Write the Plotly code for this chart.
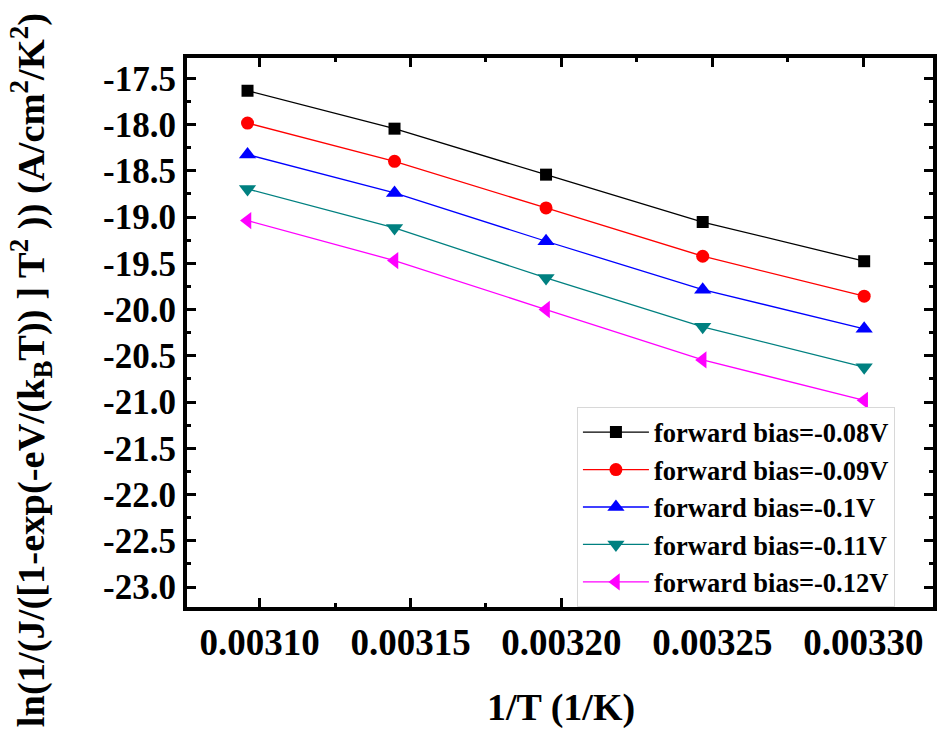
import plotly.graph_objects as go

# 1/T (1/K) for T = 323, 318, 313, 308, 303 K
inv_T = [0.0030960, 0.0031447, 0.0031949, 0.0032468, 0.0033003]

# ln(1/(J/([1-exp(-eV/(kB T))] T^2))) per forward bias
bias_labels = [
    "forward bias=-0.08V",
    "forward bias=-0.09V",
    "forward bias=-0.1V",
    "forward bias=-0.11V",
    "forward bias=-0.12V",
]
v_008 = [-17.635, -18.045, -18.542, -19.054, -19.478]
v_009 = [-17.984, -18.398, -18.902, -19.424, -19.856]
v_010 = [-18.325, -18.740, -19.262, -19.785, -20.209]
v_011 = [-18.697, -19.118, -19.658, -20.187, -20.623]
v_012 = [-19.039, -19.471, -20.000, -20.545, -20.982]

series = [v_008, v_009, v_010, v_011, v_012]
colors = ["#000000", "#FF0000", "#0000FF", "#008080", "#FF00FF"]
symbols = ["square", "circle", "triangle-up", "triangle-down", "triangle-left"]
sizes = [12, 13, 15, 15, 15]

FONT = "Liberation Serif"

fig = go.Figure()
for name, ys, c, s, sz in zip(bias_labels, series, colors, symbols, sizes):
    fig.add_trace(go.Scatter(
        x=inv_T, y=ys, name=name, mode="lines+markers",
        line=dict(color=c, width=1.3),
        marker=dict(symbol=s, size=sz, color=c, line=dict(width=0)),
    ))

axis_common = dict(
    showline=True, linecolor="black", linewidth=4,
    ticks="inside", ticklen=9, tickwidth=3, tickcolor="black",
    mirror="ticks", showgrid=False, zeroline=False,
)

fig.update_xaxes(
    range=[0.00307595, 0.0033231],
    tickvals=[0.00310, 0.00315, 0.00320, 0.00325, 0.00330],
    ticktext=["0.00310", "0.00315", "0.00320", "0.00325", "0.00330"],
    tickfont=dict(family=FONT, size=37, color="black", weight="bold"),
    minor=dict(ticks="inside", ticklen=4, tickwidth=3, tickcolor="black",
               dtick=0.000025, tick0=0.003075),
    **axis_common,
)

y_ticks = [-17.5, -18.0, -18.5, -19.0, -19.5, -20.0, -20.5,
           -21.0, -21.5, -22.0, -22.5, -23.0]
fig.update_yaxes(
    range=[-23.216, -17.281],
    tickvals=y_ticks,
    ticktext=[f"{v:.1f}" for v in y_ticks],
    tickfont=dict(family=FONT, size=35, color="black", weight="bold"),
    minor=dict(ticks="inside", ticklen=4, tickwidth=3, tickcolor="black",
               dtick=0.25, tick0=-17.25),
    **axis_common,
)

fig.add_annotation(
    text="<b>1/T (1/K)</b>", xref="paper", yref="paper",
    x=0.5013, y=-0.1826, xanchor="center", yanchor="middle",
    showarrow=False, font=dict(family=FONT, size=38, color="black"),
)
fig.add_annotation(
    text="<b>ln(1/(J/([1-exp(-eV/(k<sub>B</sub>T)) ] T<sup>2</sup> )) (A/cm<sup>2</sup>/K<sup>2</sup>)</b>",
    xref="paper", yref="paper", x=-0.209, y=0.4315,
    xanchor="center", yanchor="middle", textangle=-90,
    showarrow=False, font=dict(family=FONT, size=38.5, color="black"),
)

fig.update_layout(
    width=937, height=734,
    margin=dict(l=187, r=0, t=58, b=127, pad=0),
    paper_bgcolor="white", plot_bgcolor="white",
    font=dict(family=FONT, color="black"),
    showlegend=True,
    legend=dict(
        x=0.5227, y=0.3636, xanchor="left", yanchor="top",
        bgcolor="white", bordercolor="#d8d8d8", borderwidth=1,
        font=dict(family=FONT, size=26.5, color="black", weight="bold"),
        tracegroupgap=0, itemwidth=66,
    ),
)

fig.write_html("out.html")
